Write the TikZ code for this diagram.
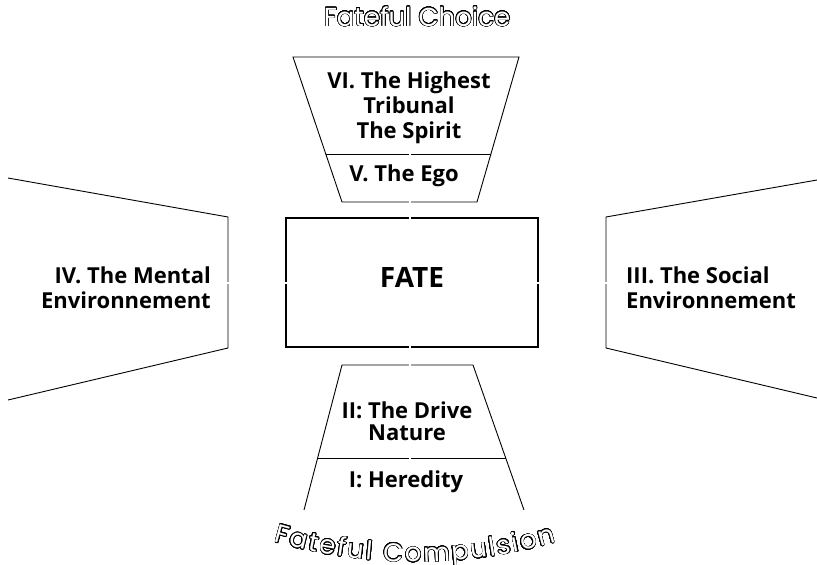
\documentclass[tikz,border=0pt]{standalone}
\usepackage{fontspec}
\setmainfont{Open Sans}
\newfontfamily\outfont{Poppins}
\usepackage{contour}
\usetikzlibrary{positioning}
\usetikzlibrary{calc}
\usetikzlibrary{decorations.text}

\contourlength{0.6pt}
\contournumber{32}
\newcommand{\outl}[1]{\contour{black}{\color{white}#1}}
\newcommand{\outlsp}[1]{\contour{black}{\color{white}#1}\kern2pt}

\tikzset{
  thin edge/.style={line width=0.9pt},
  fate edge/.style={line width=2.2pt},
  label text/.style={font=\bfseries\fontsize{22}{25}\selectfont, inner sep=0pt, align=center},
  outline text/.style={font=\outfont\fontsize{26}{26}\selectfont, inner sep=0pt},
}

\begin{document}
\begin{tikzpicture}[x=1pt, y=1pt]

    \useasboundingbox (0, 0) rectangle (817, -565);

    % Upper funnel corners
    \coordinate (ul) at (293, -57);
    \coordinate (ur) at (519, -57);
    \coordinate (ll) at (342, -202);
    \coordinate (lr) at (477, -202);
    \coordinate (sl) at ($(ul)!0.669!(ll)$);
    \coordinate (sr) at ($(ur)!0.669!(lr)$);

    % Lower funnel corners
    \coordinate (bul) at (342, -365);
    \coordinate (bur) at (473, -365);
    \coordinate (bll) at (304, -510);
    \coordinate (blr) at (524, -510);
    \coordinate (bsl) at ($(bul)!0.641!(bll)$);
    \coordinate (bsr) at ($(bur)!0.641!(blr)$);

    % Draw funnels
    \draw[thin edge] (sl)--(ul)--(ur)--(sr);
    \draw[thin edge] (sl)--(ll)--(lr)--(sr);
    \draw[thin edge] (sl)--(sr);
    \draw[thin edge] (bll)--(bsl)--(bul)--(bur)--(bsr)--(blr);
    \draw[thin edge] (bsl)--(bsr);

    % Draw side wings
    \draw[thin edge] (8, -178)--(228, -217)--(228, -348)--(8, -400);
    \draw[thin edge] (817, -180)--(606, -217)--(606, -348)--(817, -398);

    % Draw the centre box
    \draw[fate edge] (286, -218) rectangle (538, -347);

    % small breaks along the middle
    \foreach \gy in {154, 202, 218, 347, 365, 458}
        \fill[white] (409.2, -\gy-2) rectangle (410.8, -\gy+2);
    \foreach \gx in {228, 286, 538, 606}
        \fill[white] (\gx-2, -283.8) rectangle (\gx+2, -282.2);

    \node[label text] (spirit) at (409, -108) {VI. The Highest\\Tribunal\\The Spirit};
    \node[label text, anchor=base] (ego) at (404, -181) {V. The Ego};
    \node[label text, anchor=base, font=\bfseries\fontsize{28}{30}\selectfont] (fate) at (412, -287) {FATE};
    \node[label text, anchor=east, align=right] (mental) at (211, -288) {IV. The Mental\\Environnement};
    \node[label text, anchor=west, align=left] (social) at (626, -288) {III. The Social\\Environnement};
    \node[label text, font=\bfseries\fontsize{22}{22}\selectfont] (drive) at (407, -421) {II: The Drive\\Nature};
    \node[label text, anchor=base] (heredity) at (406, -487) {I: Heredity};

    \node[outline text, anchor=base] (choice) at (417, -26) {\outl{Fateful Choice}};

    \coordinate (arcc) at (416, -62);
    \path[decorate, decoration={text effects along path, text={Fateful~Compulsion}, text align=center,
        text effects/.cd, text along path, character command=\outlsp,
        every character/.style={outline text}}]
        (arcc) ++(240:500pt) arc[start angle=240, end angle=300, radius=500pt];

\end{tikzpicture}
\end{document}
